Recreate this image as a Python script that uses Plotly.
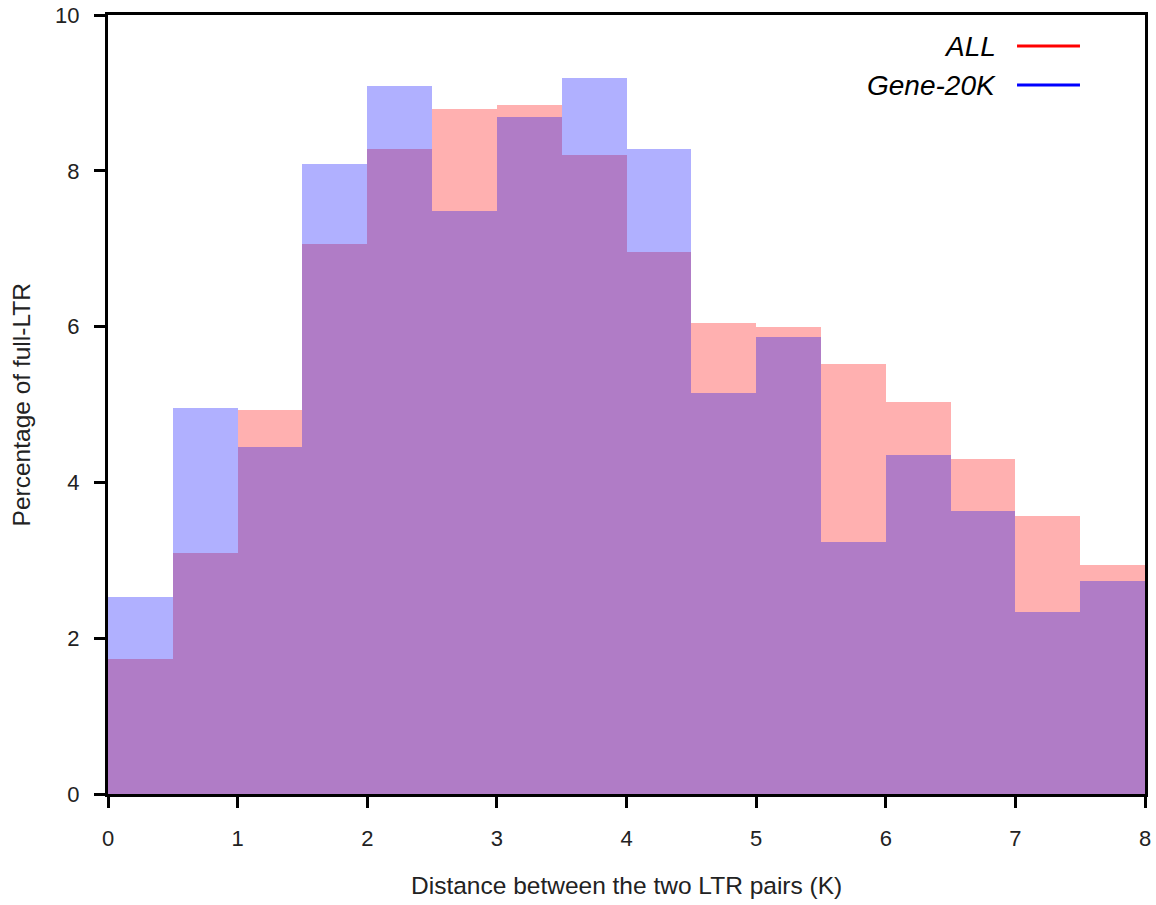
import plotly.graph_objects as go

bin_centers = [0.25, 0.75, 1.25, 1.75, 2.25, 2.75, 3.25, 3.75,
               4.25, 4.75, 5.25, 5.75, 6.25, 6.75, 7.25, 7.75]
all_vals = [1.73, 3.09, 4.93, 7.06, 8.28, 8.79, 8.84, 8.20,
            6.96, 6.05, 5.99, 5.52, 5.03, 4.30, 3.57, 2.94]
gene_vals = [2.53, 4.96, 4.45, 8.09, 9.09, 7.48, 8.69, 9.19,
             8.28, 5.15, 5.87, 3.23, 4.35, 3.63, 2.34, 2.73]
series_names = ["ALL", "Gene-20K"]
x_ticks = [0, 1, 2, 3, 4, 5, 6, 7, 8]
y_ticks = [0, 2, 4, 6, 8, 10]

overlap = [min(a, g) for a, g in zip(all_vals, gene_vals)]

FONT = "Liberation Sans, Arial, sans-serif"
fig = go.Figure()
fig.add_trace(go.Bar(x=bin_centers, y=all_vals, width=0.5, marker=dict(color="#FFB0B0", line=dict(width=0)),
                     showlegend=False))
fig.add_trace(go.Bar(x=bin_centers, y=gene_vals, width=0.5, marker=dict(color="#B0B0FF", line=dict(width=0)),
                     showlegend=False))
fig.add_trace(go.Bar(x=bin_centers, y=overlap, width=0.5, marker=dict(color="#B07CC6", line=dict(width=0)),
                     showlegend=False))

axis_common = dict(showline=True, linecolor="black", linewidth=3, mirror=True,
                   ticks="outside", ticklen=11, tickwidth=3, tickcolor="black",
                   showgrid=False, zeroline=False, automargin=False,
                   tickfont=dict(family=FONT, size=22, color="#222"))

fig.update_layout(
    width=1156, height=905,
    margin=dict(l=108, r=11, t=15, b=111, autoexpand=False),
    plot_bgcolor="white", paper_bgcolor="white",
    barmode="overlay", bargap=0,
    xaxis=dict(range=[0, 8], tickvals=x_ticks, ticklabelstandoff=12, **axis_common),
    yaxis=dict(range=[0, 10], tickvals=y_ticks, ticklabelstandoff=10, **axis_common),
    showlegend=False,
)

# axis titles
fig.add_annotation(text="Distance between the two LTR pairs (K)", xref="paper", yref="paper",
                   x=0.5, y=-0.118, xanchor="center", yanchor="middle", showarrow=False,
                   font=dict(family=FONT, size=24.5, color="#222"))
fig.add_annotation(text="Percentage of full-LTR", xref="paper", yref="paper",
                   x=-0.083, y=0.5, xanchor="center", yanchor="middle", textangle=-90, showarrow=False,
                   font=dict(family=FONT, size=24.5, color="#222"))

# legend drawn manually (text left of line sample)
legend_colors = ["red", "blue"]
legend_y = [0.9602, 0.9101]
for name, col, yy in zip(series_names, legend_colors, legend_y):
    fig.add_annotation(text="<i>" + name + "</i>", xref="paper", yref="paper",
                       x=0.8582, y=yy, xanchor="right", yanchor="middle", showarrow=False,
                       font=dict(family=FONT, size=28, color="black"))
    fig.add_shape(type="line", xref="paper", yref="paper", x0=0.8766, x1=0.9373, y0=yy, y1=yy,
                  line=dict(color=col, width=3))

fig.write_html("out.html")
